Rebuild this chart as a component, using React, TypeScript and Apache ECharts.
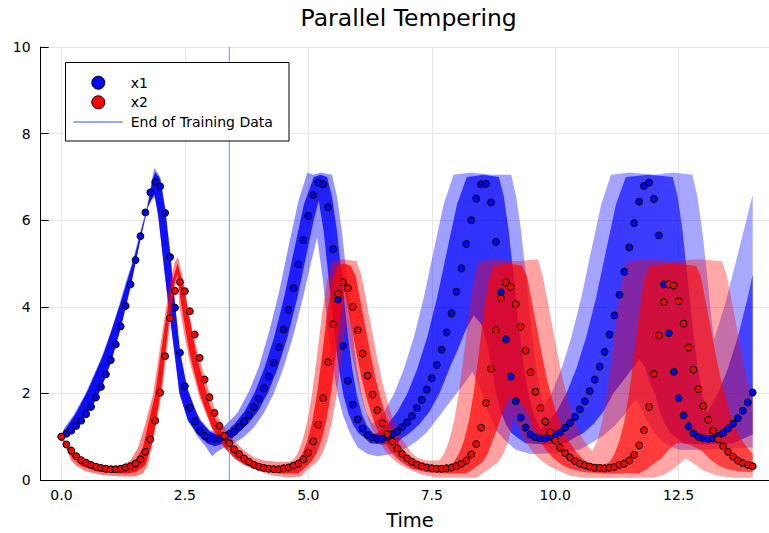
import React, { useEffect, useRef } from "react";
import * as echarts from "echarts";

const FONT = '"DejaVu Sans", "Liberation Sans", sans-serif';

// saved time points of the observations (step 0.1 from 0 to 14)
const TIME: number[] = Array.from({ length: 141 }, (_, i) => i / 10);

const X1: number[] = [
  1.0, 1.07, 1.14, 1.25, 1.37, 1.52, 1.69, 1.91, 2.15, 2.44,
  2.77, 3.13, 3.55, 4.02, 4.52, 5.08, 5.63, 6.18, 6.64, 6.88,
  6.78, 6.17, 5.15, 3.98, 2.94, 2.17, 1.67, 1.35, 1.14, 1.02,
  0.96, 0.95, 0.96, 1.0, 1.06, 1.12, 1.23, 1.35, 1.5, 1.68,
  1.88, 2.12, 2.39, 2.71, 3.07, 3.48, 3.93, 4.43, 4.98, 5.54,
  6.1, 6.58, 6.87, 6.83, 6.3, 5.33, 4.17, 3.1, 2.29, 1.74,
  1.4, 1.19, 1.04, 0.98, 0.95, 0.95, 1.0, 1.06, 1.12, 1.22,
  1.33, 1.48, 1.66, 1.85, 2.09, 2.35, 2.66, 3.01, 3.41, 3.85,
  4.35, 4.89, 5.45, 6.0, 6.5, 6.83, 6.84, 6.41, 5.5, 4.34,
  3.25, 2.39, 1.82, 1.44, 1.21, 1.05, 0.99, 0.96, 0.96, 1.0,
  1.05, 1.1, 1.21, 1.32, 1.46, 1.63, 1.82, 2.05, 2.32, 2.62,
  2.96, 3.36, 3.8, 4.28, 4.81, 5.37, 5.93, 6.43, 6.79, 6.87,
  6.49, 5.65, 4.52, 3.39, 2.5, 1.89, 1.49, 1.24, 1.08, 1.0,
  0.96, 0.95, 0.96, 1.01, 1.09, 1.19, 1.3, 1.43, 1.6, 1.79,
  2.02,
];

const X2: number[] = [
  1.0, 0.82, 0.68, 0.55, 0.46, 0.4, 0.35, 0.31, 0.28, 0.26,
  0.25, 0.25, 0.26, 0.29, 0.32, 0.38, 0.48, 0.65, 0.94, 1.37,
  2.02, 2.86, 3.74, 4.37, 4.57, 4.36, 3.9, 3.36, 2.82, 2.32,
  1.91, 1.55, 1.25, 1.02, 0.85, 0.71, 0.6, 0.5, 0.42, 0.35,
  0.31, 0.28, 0.26, 0.25, 0.25, 0.27, 0.29, 0.33, 0.38, 0.48,
  0.63, 0.89, 1.28, 1.89, 2.72, 3.6, 4.3, 4.57, 4.43, 4.0,
  3.46, 2.92, 2.41, 1.97, 1.61, 1.31, 1.06, 0.89, 0.73, 0.6,
  0.5, 0.42, 0.36, 0.32, 0.29, 0.27, 0.26, 0.26, 0.27, 0.29,
  0.32, 0.37, 0.45, 0.59, 0.83, 1.21, 1.78, 2.57, 3.46, 4.2,
  4.56, 4.46, 4.06, 3.54, 2.99, 2.49, 2.04, 1.66, 1.35, 1.1,
  0.91, 0.75, 0.62, 0.52, 0.44, 0.38, 0.34, 0.31, 0.28, 0.28,
  0.27, 0.28, 0.3, 0.35, 0.38, 0.45, 0.58, 0.8, 1.15, 1.69,
  2.45, 3.34, 4.11, 4.52, 4.49, 4.13, 3.61, 3.06, 2.55, 2.1,
  1.71, 1.39, 1.14, 0.94, 0.78, 0.65, 0.54, 0.45, 0.39, 0.35,
  0.32,
];

const X_TICKS = [0, 2.5, 5, 7.5, 10, 12.5];
const TRAIN_END = 3.4;

// Envelopes of the posterior sample trajectories
const X1_OUTER_UP: number[][] = [
  [0, 1.03], [0.06, 1.2], [0.25, 1.5], [0.49, 2.0], [0.79, 2.77], [1.0, 3.4], [1.16, 4.0], [1.3, 4.55],
  [1.45, 5.08], [1.6, 5.75], [1.73, 6.3], [1.82, 6.85], [1.88, 7.2], [2.0, 7.0], [2.1, 6.3], [2.2, 5.3],
  [2.3, 4.1], [2.4, 3.0], [2.5, 2.35], [2.59, 2.0], [2.7, 1.62], [2.83, 1.38], [3.0, 1.15], [3.15, 1.1],
  [3.3, 1.25], [3.56, 1.54], [3.8, 2.05], [4.0, 2.62], [4.2, 3.4], [4.4, 4.3], [4.6, 5.4], [4.8, 6.45],
  [4.98, 7.1], [5.1, 7.05], [5.25, 7.1], [5.48, 7.05], [5.58, 6.55], [5.68, 5.75], [5.78, 4.68], [5.88, 3.56],
  [5.98, 2.63], [6.08, 1.97], [6.18, 1.55], [6.3, 1.3], [6.5, 1.5], [6.74, 2.0], [6.94, 2.58], [7.14, 3.31],
  [7.34, 4.22], [7.54, 5.3], [7.74, 6.36], [7.94, 7.05], [8.3, 7.1], [8.7, 7.05], [9.11, 7.05], [9.21, 6.54],
  [9.31, 5.75], [9.41, 4.68], [9.51, 3.56], [9.61, 2.63], [9.71, 1.97], [9.78, 1.72], [9.93, 2.01], [10.13, 2.58],
  [10.33, 3.31], [10.53, 4.22], [10.73, 5.3], [10.93, 6.36], [11.13, 7.05], [11.5, 7.1], [12.0, 7.05], [12.4, 7.1],
  [12.78, 7.05], [12.88, 6.54], [12.98, 5.75], [13.08, 4.68], [13.18, 3.56], [13.22, 3.25], [13.45, 4.1], [13.65, 5.0],
  [13.85, 5.9], [14.0, 6.6],
];
const X1_OUTER_LO: number[][] = [
  [0, 0.97], [0.1, 1.0], [0.3, 1.2], [0.5, 1.48], [0.7, 1.85], [0.9, 2.4], [1.1, 3.1], [1.3, 4.0],
  [1.5, 5.05], [1.7, 6.15], [1.8, 6.45], [1.9, 6.55], [1.96, 6.1], [2.06, 5.08], [2.17, 4.0], [2.29, 2.92],
  [2.39, 2.0], [2.56, 1.38], [2.76, 1.0], [2.9, 0.8], [3.05, 0.55], [3.15, 0.65], [3.3, 0.75], [3.5, 0.85],
  [3.7, 1.0], [3.9, 1.22], [4.1, 1.55], [4.3, 2.0], [4.5, 2.6], [4.7, 3.35], [4.9, 4.25], [5.05, 5.0],
  [5.18, 5.6], [5.3, 4.57], [5.4, 3.45], [5.5, 2.55], [5.6, 1.95], [5.7, 1.5], [5.8, 1.2], [5.9, 0.95],
  [6.0, 0.75], [6.2, 0.6], [6.4, 0.55], [6.7, 0.6], [7.0, 0.75], [7.2, 0.9], [7.4, 1.1], [7.6, 1.4],
  [7.8, 1.7], [8.0, 2.0], [8.2, 2.3], [8.32, 2.5], [8.45, 2.2], [8.55, 1.9], [8.65, 1.55], [8.8, 1.15],
  [9.0, 0.9], [9.2, 0.7], [9.5, 0.6], [10.0, 0.62], [10.5, 0.7], [10.8, 0.9], [11.0, 1.05], [11.2, 1.25],
  [11.4, 1.5], [11.55, 1.75], [11.65, 1.85], [11.75, 1.65], [11.85, 1.4], [12.0, 1.1], [12.2, 0.85], [12.5, 0.7],
  [13.0, 0.7], [13.5, 0.72], [14.0, 0.75],
];
const X1_CORE_UP: number[][] = [
  [0, 1.02], [0.1, 1.2], [0.3, 1.55], [0.55, 2.1], [0.85, 2.9], [1.2, 4.1], [1.48, 5.15], [1.75, 6.35],
  [1.85, 6.95], [1.9, 7.1], [2.0, 6.95], [2.1, 6.25], [2.2, 5.25], [2.3, 4.05], [2.4, 2.98], [2.55, 2.1],
  [2.8, 1.38], [3.0, 1.12], [3.2, 1.03], [3.31, 1.09], [3.51, 1.3], [3.71, 1.59], [3.91, 2.01], [4.11, 2.58],
  [4.31, 3.31], [4.51, 4.22], [4.71, 5.3], [4.91, 6.36], [5.11, 7.0], [5.25, 7.05], [5.38, 7.0], [5.48, 6.54],
  [5.58, 5.75], [5.68, 4.68], [5.78, 3.56], [5.88, 2.63], [5.98, 1.97], [6.08, 1.54], [6.18, 1.27], [6.33, 1.06],
  [6.41, 1.09], [6.61, 1.3], [6.81, 1.59], [7.01, 2.01], [7.21, 2.58], [7.41, 3.31], [7.61, 4.22], [7.81, 5.3],
  [8.01, 6.36], [8.21, 7.0], [8.55, 7.05], [8.86, 7.0], [8.96, 6.54], [9.06, 5.75], [9.16, 4.68], [9.26, 3.56],
  [9.36, 2.63], [9.46, 1.97], [9.56, 1.54], [9.7, 1.17], [9.83, 1.3], [10.03, 1.59], [10.23, 2.01], [10.43, 2.58],
  [10.63, 3.31], [10.83, 4.22], [11.03, 5.3], [11.23, 6.36], [11.43, 7.0], [11.9, 7.05], [12.38, 7.0], [12.48, 6.54],
  [12.58, 5.75], [12.68, 4.68], [12.78, 3.56], [12.88, 2.63], [12.98, 1.97], [13.08, 1.55], [13.3, 2.01], [13.5, 2.58],
  [13.7, 3.31], [13.9, 4.22], [14.0, 4.75],
];
const X1_CORE_LO: number[][] = [
  [0, 0.98], [0.2, 1.12], [0.4, 1.35], [0.6, 1.65], [0.8, 2.1], [1.0, 2.7], [1.2, 3.5], [1.4, 4.45],
  [1.6, 5.55], [1.75, 6.3], [1.88, 6.6], [1.96, 6.1], [2.06, 5.08], [2.17, 4.0], [2.29, 2.92], [2.39, 2.0],
  [2.56, 1.38], [2.76, 1.05], [2.95, 0.85], [3.1, 0.78], [3.3, 0.85], [3.45, 0.95], [3.58, 1.09], [3.78, 1.3],
  [3.98, 1.59], [4.18, 2.01], [4.38, 2.58], [4.58, 3.31], [4.78, 4.22], [4.98, 5.3], [5.1, 5.95], [5.21, 6.45],
  [5.31, 5.75], [5.41, 4.68], [5.51, 3.56], [5.61, 2.63], [5.71, 1.97], [5.81, 1.54], [5.91, 1.27], [6.01, 1.09],
  [6.11, 1.0], [6.25, 0.85], [6.5, 0.82], [6.8, 0.85], [6.9, 0.97], [7.06, 1.09], [7.26, 1.3], [7.46, 1.59],
  [7.66, 2.01], [7.86, 2.58], [8.06, 3.1], [8.2, 3.5], [8.35, 3.8], [8.5, 3.6], [8.61, 3.2], [8.71, 2.63],
  [8.81, 1.97], [8.91, 1.54], [9.01, 1.27], [9.11, 1.09], [9.21, 1.0], [9.4, 0.85], [9.8, 0.82], [10.2, 0.85],
  [10.38, 0.97], [10.58, 1.09], [10.78, 1.3], [10.98, 1.59], [11.18, 2.01], [11.38, 2.3], [11.58, 2.6], [11.7, 2.8],
  [11.82, 2.6], [11.93, 2.2], [12.03, 1.97], [12.13, 1.54], [12.23, 1.27], [12.33, 1.09], [12.43, 1.0], [12.6, 0.85],
  [13.0, 0.82], [13.6, 0.85], [14.0, 1.05],
];

const X2_OUTER_UP: number[][] = [
  [0, 1.02], [0.1, 0.86], [0.2, 0.72], [0.3, 0.6], [0.5, 0.45], [0.7, 0.37], [1.0, 0.32], [1.2, 0.33],
  [1.4, 0.45], [1.56, 0.77], [1.7, 1.3], [1.86, 2.0], [2.06, 3.54], [2.2, 4.55], [2.3, 5.05], [2.36, 5.15],
  [2.45, 4.7], [2.56, 4.0], [2.68, 3.3], [2.8, 2.77], [3.0, 2.0], [3.15, 1.5], [3.29, 1.23], [3.5, 0.9],
  [3.7, 0.68], [3.9, 0.52], [4.1, 0.45], [4.35, 0.42], [4.6, 0.42], [4.68, 0.45], [4.78, 0.6], [4.88, 0.9],
  [4.98, 1.35], [5.08, 2.02], [5.18, 2.9], [5.28, 3.85], [5.38, 4.6], [5.48, 5.05], [5.7, 5.1], [5.98, 5.05],
  [6.08, 4.7], [6.18, 4.1], [6.28, 3.5], [6.38, 2.9], [6.48, 2.35], [6.58, 1.9], [6.68, 1.52], [6.78, 1.2],
  [6.88, 0.97], [6.98, 0.8], [7.08, 0.64], [7.2, 0.52], [7.4, 0.45], [7.65, 0.45], [7.75, 0.6], [7.85, 0.9],
  [7.95, 1.35], [8.05, 2.02], [8.15, 2.9], [8.25, 3.85], [8.35, 4.6], [8.45, 5.05], [8.8, 5.1], [9.2, 5.05],
  [9.65, 5.1], [9.75, 4.7], [9.85, 4.1], [9.95, 3.5], [10.05, 2.9], [10.15, 2.35], [10.25, 1.9], [10.35, 1.52],
  [10.45, 1.2], [10.55, 0.97], [10.65, 0.8], [10.75, 0.66], [10.85, 0.9], [10.95, 1.35], [11.05, 2.02], [11.15, 2.9],
  [11.25, 3.85], [11.35, 4.6], [11.45, 5.05], [11.9, 5.1], [12.4, 5.05], [12.9, 5.1], [13.38, 5.05], [13.48, 4.7],
  [13.58, 4.1], [13.68, 3.5], [13.78, 2.9], [13.88, 2.35], [14.0, 1.85],
];
const X2_OUTER_LO: number[][] = [
  [0, 0.98], [0.1, 0.74], [0.19, 0.46], [0.3, 0.33], [0.5, 0.2], [0.8, 0.12], [1.0, 0.1], [1.3, 0.08],
  [1.5, 0.08], [1.65, 0.15], [1.75, 0.35], [1.83, 0.77], [2.03, 2.0], [2.19, 3.54], [2.3, 4.5], [2.36, 4.65],
  [2.39, 4.0], [2.5, 3.3], [2.59, 2.77], [2.8, 1.9], [3.03, 1.23], [3.2, 0.9], [3.4, 0.65], [3.6, 0.45],
  [3.8, 0.32], [4.0, 0.2], [4.3, 0.1], [4.6, 0.06], [4.85, 0.08], [5.0, 0.26], [5.18, 0.42], [5.28, 0.6],
  [5.38, 0.9], [5.48, 1.35], [5.58, 2.02], [5.68, 2.9], [5.76, 3.6], [5.78, 3.5], [5.88, 2.9], [5.98, 2.35],
  [6.08, 1.9], [6.18, 1.52], [6.28, 1.2], [6.38, 0.97], [6.48, 0.8], [6.58, 0.64], [6.68, 0.52], [6.78, 0.42],
  [6.88, 0.34], [6.98, 0.28], [7.08, 0.23], [7.3, 0.12], [7.6, 0.06], [8.4, 0.05], [8.65, 0.25], [8.85, 0.42],
  [8.95, 0.6], [9.05, 0.9], [9.17, 1.45], [9.25, 1.2], [9.35, 0.97], [9.45, 0.8], [9.55, 0.64], [9.65, 0.52],
  [9.75, 0.42], [9.85, 0.34], [10.0, 0.25], [10.3, 0.1], [10.6, 0.05], [12.0, 0.05], [12.2, 0.12], [12.4, 0.26],
  [12.64, 0.5], [12.75, 0.42], [12.85, 0.34], [13.0, 0.22], [13.3, 0.1], [13.6, 0.05], [14.0, 0.05],
];
const X2_CORE_UP: number[][] = [
  [0, 1.0], [0.1, 0.8], [0.2, 0.64], [0.4, 0.45], [0.7, 0.32], [1.0, 0.27], [1.3, 0.3], [1.5, 0.45],
  [1.65, 0.75], [1.9, 2.0], [2.1, 3.6], [2.25, 4.6], [2.35, 5.0], [2.45, 4.6], [2.55, 4.0], [2.75, 2.8],
  [3.0, 1.75], [3.2, 1.2], [3.4, 0.85], [3.6, 0.62], [3.8, 0.47], [4.0, 0.38], [4.2, 0.33], [4.4, 0.32],
  [4.68, 0.32], [4.78, 0.42], [4.88, 0.6], [4.98, 0.9], [5.08, 1.35], [5.18, 2.02], [5.28, 2.9], [5.38, 3.85],
  [5.48, 4.6], [5.58, 4.95], [5.72, 5.0], [5.86, 4.95], [5.96, 4.7], [6.06, 4.1], [6.16, 3.5], [6.26, 2.9],
  [6.36, 2.35], [6.46, 1.9], [6.56, 1.52], [6.66, 1.2], [6.76, 0.97], [6.86, 0.8], [6.96, 0.64], [7.06, 0.52],
  [7.16, 0.42], [7.26, 0.34], [7.4, 0.28], [7.6, 0.27], [7.85, 0.32], [7.95, 0.42], [8.05, 0.6], [8.15, 0.9],
  [8.25, 1.35], [8.35, 2.02], [8.45, 2.9], [8.55, 3.85], [8.65, 4.6], [8.75, 4.95], [9.05, 5.0], [9.33, 4.95],
  [9.43, 4.7], [9.53, 4.1], [9.63, 3.5], [9.73, 2.9], [9.83, 2.35], [9.93, 1.9], [10.03, 1.52], [10.13, 1.2],
  [10.23, 0.97], [10.33, 0.8], [10.43, 0.64], [10.53, 0.52], [10.63, 0.42], [10.75, 0.38], [11.0, 0.35], [11.1, 0.42],
  [11.2, 0.6], [11.3, 0.9], [11.4, 1.35], [11.5, 2.02], [11.6, 2.9], [11.7, 3.85], [11.8, 4.6], [11.9, 4.95],
  [12.4, 5.0], [12.85, 4.95], [12.95, 4.7], [13.05, 4.1], [13.15, 3.5], [13.25, 2.9], [13.35, 2.35], [13.45, 1.9],
  [13.55, 1.52], [13.65, 1.2], [13.75, 0.97], [13.85, 0.8], [14.0, 0.6],
];
const X2_CORE_LO: number[][] = [
  [0, 0.98], [0.1, 0.75], [0.2, 0.55], [0.4, 0.33], [0.7, 0.2], [1.0, 0.16], [1.3, 0.15], [1.5, 0.18],
  [1.7, 0.35], [1.85, 0.9], [2.03, 2.2], [2.17, 3.6], [2.28, 4.5], [2.35, 4.75], [2.42, 4.1], [2.6, 2.9],
  [2.8, 2.0], [3.05, 1.2], [3.3, 0.75], [3.5, 0.5], [3.7, 0.35], [4.0, 0.22], [4.4, 0.15], [4.8, 0.15],
  [4.9, 0.25], [5.06, 0.42], [5.16, 0.6], [5.26, 0.9], [5.36, 1.35], [5.46, 2.02], [5.56, 2.9], [5.66, 3.85],
  [5.73, 4.37], [5.78, 4.1], [5.88, 3.5], [5.98, 2.9], [6.08, 2.35], [6.18, 1.9], [6.28, 1.52], [6.38, 1.2],
  [6.48, 0.97], [6.58, 0.8], [6.68, 0.64], [6.78, 0.52], [6.88, 0.42], [6.98, 0.34], [7.1, 0.26], [7.4, 0.18],
  [7.8, 0.15], [8.2, 0.15], [8.33, 0.25], [8.53, 0.42], [8.63, 0.6], [8.73, 0.9], [8.83, 1.2], [8.95, 1.6],
  [9.07, 1.9], [9.2, 1.85], [9.35, 1.7], [9.45, 1.52], [9.55, 1.2], [9.65, 0.97], [9.75, 0.8], [9.85, 0.64],
  [9.95, 0.52], [10.05, 0.42], [10.15, 0.34], [10.3, 0.26], [10.6, 0.18], [11.0, 0.15], [11.7, 0.15], [11.85, 0.25],
  [12.0, 0.38], [12.15, 0.5], [12.3, 0.7], [12.45, 0.85], [12.6, 0.85], [12.75, 0.8], [12.9, 0.72], [13.0, 0.64],
  [13.1, 0.52], [13.2, 0.42], [13.3, 0.34], [13.45, 0.26], [13.7, 0.2], [14.0, 0.18],
];

const BLUE = "#0000ff";
const RED = "#ff0000";
const VLINE = "#6495ED";
const GRID_GRAY = "#e6e6e6";

function gradient(rgb: string, alphas: number[][]) {
  return new echarts.graphic.LinearGradient(
    0, 0, 1, 0,
    alphas.map(([o, a]) => ({ offset: o, color: `rgba(${rgb},${a})` }))
  );
}

function bandSeries(name: string, up: number[][], lo: number[][], rgb: string, alphas: number[][], z: number) {
  const outline = up.concat(lo.slice().reverse());
  return {
    type: "custom",
    name,
    coordinateSystem: "cartesian2d",
    silent: true,
    clip: true,
    z,
    data: [outline[0]],
    encode: { x: 0, y: 1 },
    renderItem: (_params: any, api: any) => ({
      type: "polygon",
      shape: { points: outline.map((p) => api.coord(p)) },
      style: { fill: gradient(rgb, alphas) },
    }),
  };
}

const OUTER_ALPHA = [[0, 0.55], [0.25, 0.45], [0.5, 0.38], [1, 0.34]];
const CORE_ALPHA = [[0, 0.92], [0.25, 0.85], [0.5, 0.72], [1, 0.6]];

export default function App() {
  const ref = useRef<HTMLDivElement>(null);

  useEffect(() => {
    if (!ref.current) return;
    const chart = echarts.init(ref.current, undefined, { renderer: "svg" });

    const textStyle = (size: number) => ({ fontSize: size, fontFamily: FONT, color: "#000" });

    const option: any = {
      animation: false,
      grid: { left: 40.7, right: -8, top: 47, bottom: 53, containLabel: false },
      xAxis: {
        type: "value",
        min: -0.42,
        max: 14.33,
        axisLine: { show: true, onZero: false, lineStyle: { color: "#000", width: 1 } },
        axisTick: { show: true, inside: true, length: 6, customValues: X_TICKS, lineStyle: { color: "#000" } },
        axisLabel: {
          customValues: X_TICKS,
          formatter: (v: number) => v.toFixed(1),
          margin: 8,
          ...textStyle(14),
        },
        splitLine: { show: false },
      },
      yAxis: {
        type: "value",
        min: 0,
        max: 10,
        interval: 2,
        axisLine: { show: true, onZero: false, lineStyle: { color: "#000", width: 1 } },
        axisTick: { show: true, inside: true, length: 8, lineStyle: { color: "#000" } },
        axisLabel: { margin: 10, ...textStyle(14) },
        splitLine: { show: true, lineStyle: { color: GRID_GRAY, width: 1 } },
      },
      series: [
        {
          type: "line",
          name: "grid",
          data: [],
          silent: true,
          z: 1,
          markLine: {
            silent: true,
            z: 1,
            symbol: "none",
            label: { show: false },
            lineStyle: { color: GRID_GRAY, width: 1, type: "solid" },
            data: X_TICKS.map((v) => ({ xAxis: v })),
          },
        },
        bandSeries("x1 samples", X1_OUTER_UP, X1_OUTER_LO, "0,0,255", OUTER_ALPHA, 10),
        bandSeries("x1 samples core", X1_CORE_UP, X1_CORE_LO, "0,0,255", CORE_ALPHA, 11),
        bandSeries("x2 samples", X2_OUTER_UP, X2_OUTER_LO, "255,0,0", OUTER_ALPHA, 12),
        bandSeries("x2 samples core", X2_CORE_UP, X2_CORE_LO, "255,0,0", CORE_ALPHA, 13),
        {
          type: "line",
          name: "End of Training Data",
          data: [[TRAIN_END, 0], [TRAIN_END, 10]],
          symbol: "none",
          lineStyle: { color: VLINE, width: 1 },
          silent: true,
          z: 14,
        },
        {
          type: "scatter",
          name: "x1",
          data: TIME.map((t, i) => [t, X1[i]]),
          symbol: "circle",
          symbolSize: 6.8,
          itemStyle: { color: BLUE, borderColor: "#000", borderWidth: 1, opacity: 1 },
          silent: true,
          z: 15,
        },
        {
          type: "scatter",
          name: "x2",
          data: TIME.map((t, i) => [t, X2[i]]),
          symbol: "circle",
          symbolSize: 6.8,
          itemStyle: { color: RED, borderColor: "#000", borderWidth: 1, opacity: 1 },
          silent: true,
          z: 16,
        },
      ],
      graphic: [
        {
          type: "text",
          x: 408.7,
          y: 18.3,
          z: 100,
          style: {
            text: "Parallel Tempering",
            fill: "#000",
            fontSize: 23.5,
            fontFamily: FONT,
            textAlign: "center",
            textVerticalAlign: "middle",
            align: "center",
            verticalAlign: "middle",
          },
        },
        {
          type: "text",
          x: 410,
          y: 520.3,
          z: 100,
          style: {
            text: "Time",
            fill: "#000",
            fontSize: 19.5,
            fontFamily: FONT,
            textAlign: "center",
            textVerticalAlign: "middle",
            align: "center",
            verticalAlign: "middle",
          },
        },
        {
          type: "group",
          z: 100,
          children: [
            {
              type: "rect",
              shape: { x: 65.5, y: 62.5, width: 223.5, height: 78.5 },
              style: { fill: "#fff", stroke: "#000", lineWidth: 1 },
              z: 100,
            },
            {
              type: "circle",
              shape: { cx: 98.3, cy: 82.7, r: 6.5 },
              style: { fill: BLUE, stroke: "#000", lineWidth: 1 },
              z: 101,
            },
            {
              type: "circle",
              shape: { cx: 98.3, cy: 102.3, r: 6.5 },
              style: { fill: RED, stroke: "#000", lineWidth: 1 },
              z: 101,
            },
            {
              type: "line",
              shape: { x1: 73.3, y1: 122, x2: 122.7, y2: 122 },
              style: { stroke: VLINE, lineWidth: 1.3 },
              z: 101,
            },
            ...["x1", "x2", "End of Training Data"].map((label, i) => ({
              type: "text",
              x: 130.7,
              y: [82.7, 102.3, 122][i],
              z: 101,
              style: {
                text: label,
                fill: "#000",
                fontSize: 14,
                fontFamily: FONT,
                textAlign: "left",
                textVerticalAlign: "middle",
                align: "left",
                verticalAlign: "middle",
              },
            })),
          ],
        },
      ],
    };

    chart.setOption(option);
    return () => chart.dispose();
  }, []);

  return (
    <div
      ref={ref}
      style={{ position: "absolute", left: 0, top: 0, width: 769, height: 533, background: "#fff" }}
    />
  );
}
